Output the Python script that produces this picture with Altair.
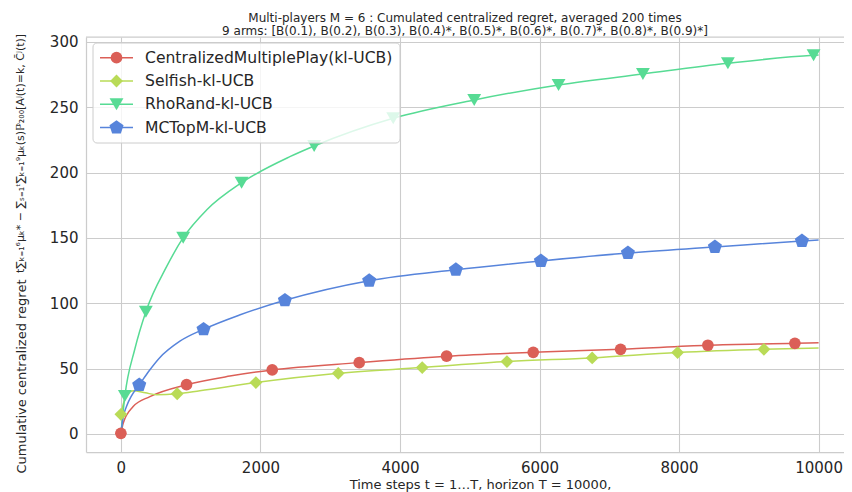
import altair as alt
import pandas as pd

names = ["CentralizedMultiplePlay(kl-UCB)", "Selfish-kl-UCB", "RhoRand-kl-UCB", "MCTopM-kl-UCB"]
colors = ["#db5f57", "#b9db57", "#57db94", "#5784db"]
pentagon = "M0,-1L0.951,-0.309L0.588,0.809L-0.588,0.809L-0.951,-0.309Z"
shapes = ["circle", "diamond", "triangle-down", pentagon]
marker_sizes = [137, 220, 128, 127]

# Curves (time step, cumulative centralized regret)
central_t = [0, 33, 176, 416, 941, 1562, 2169, 3416, 4668, 5910, 7162, 8413, 9660, 10000]
central_v = [0, 8.2, 21, 28.6, 37.7, 44.3, 49, 54.6, 59.5, 62.5, 64.8, 67.9, 69.4, 69.9]
central_mt = [0, 941, 2169, 3416, 4668, 5910, 7162, 8413, 9660]
central_mv = [0.5, 37.7, 49, 54.6, 59.5, 62.5, 64.8, 67.9, 69.4]

selfish_t = [0, 60, 176, 350, 511, 807, 1132, 1935, 3115, 4319, 5533, 6755, 7979, 9216, 10000]
selfish_v = [15, 27, 33, 31.5, 30, 30.8, 33.1, 39.3, 46.4, 50.8, 55.4, 58.2, 62.3, 64.8, 65.8]
selfish_mt = [0, 807, 1935, 3115, 4319, 5533, 6755, 7979, 9216]
selfish_mv = [15, 30.8, 39.3, 46.4, 50.8, 55.4, 58.2, 62.3, 64.8]

rho_t = [0, 57, 200, 358, 655, 893, 1228, 1730, 2422, 2770, 3903, 5064, 6273, 7482, 8700, 9928, 10000]
rho_v = [0, 29, 65, 93.6, 128, 150.2, 171.4, 192.3, 212.2, 220.4, 241.6, 255.6, 267.1, 275.5, 283.7, 289.8, 290]
rho_mt = [57, 358, 893, 1730, 2770, 3903, 5064, 6273, 7482, 8700, 9928]
rho_mv = [29, 93.6, 150.2, 192.3, 220.4, 241.6, 255.6, 267.1, 275.5, 283.7, 289.8]

mctop_t = [0, 30, 80, 150, 263, 400, 550, 846, 1185, 1700, 2351, 3559, 4801, 6020, 7267, 8514, 9761, 10000]
mctop_v = [0, 12, 21, 29, 37.5, 48, 58, 71, 80.1, 91, 102.3, 117.3, 125.7, 132.4, 138.5, 143.1, 147.7, 148.5]
mctop_mt = [263, 1185, 2351, 3559, 4801, 6020, 7267, 8514, 9761]
mctop_mv = [37.5, 80.1, 102.3, 117.3, 125.7, 132.4, 138.5, 143.1, 147.7]

x_ticks = [0, 2000, 4000, 6000, 8000, 10000]
y_ticks = [0, 50, 100, 150, 200, 250, 300]

title_lines = [
    "Multi-players M = 6 : Cumulated centralized regret, averaged 200 times",
    "9 arms: [B(0.1), B(0.2), B(0.3), B(0.4)*, B(0.5)*, B(0.6)*, B(0.7)*, B(0.8)*, B(0.9)*]",
]
x_title = "Time steps t = 1…T, horizon T = 10000,"
y_title = "Cumulative centralized regret"
y_title_math = "t∑ₖ₌₁⁶μₖ* − ∑ₛ₌₁ᵗ∑ₖ₌₁⁹μₖ(s)ℙ₂₀₀[Aʲ(t)=k, C̄ʲ(t)]"

series = [
    (names[0], central_t, central_v, central_mt, central_mv),
    (names[1], selfish_t, selfish_v, selfish_mt, selfish_mv),
    (names[2], rho_t, rho_v, rho_mt, rho_mv),
    (names[3], mctop_t, mctop_v, mctop_mt, mctop_mv),
]
line_rows, mark_rows = [], []
for n, ts, vs, mts, mvs in series:
    line_rows += [{"series": n, "t": t, "v": v} for t, v in zip(ts, vs)]
    mark_rows += [{"series": n, "t": t, "v": v} for t, v in zip(mts, mvs)]
line_df = pd.DataFrame(line_rows)
mark_df = pd.DataFrame(mark_rows)

W, H = 758, 415
FONT = "DejaVu Sans"
TXT = "#262626"
GRID = "#cccccc"

x_enc = alt.X("t:Q", scale=alt.Scale(domain=[-500, 10364], nice=False, zero=False),
              axis=alt.Axis(values=x_ticks, title=x_title, format="d", titleX=394, titleY=32,
                            titleBaseline="middle", titleAnchor="middle"))
y_enc = alt.Y("v:Q", scale=alt.Scale(domain=[-13.8, 303.8], nice=False, zero=False),
              axis=alt.Axis(values=y_ticks, title=y_title, format="d", titleX=-65, titleY=436,
                            titleAlign="left", titleBaseline="middle", titleAngle=270))
color_enc = alt.Color("series:N", scale=alt.Scale(domain=names, range=colors), legend=None)
shape_enc = alt.Shape("series:N", scale=alt.Scale(domain=names, range=shapes), legend=None)
size_enc = alt.Size("series:N", scale=alt.Scale(domain=names, range=marker_sizes), legend=None)

lines = alt.Chart(line_df).mark_line(strokeWidth=1.5, interpolate="monotone", clip=True).encode(
    x=x_enc, y=y_enc, color=color_enc)
points = alt.Chart(mark_df).mark_point(filled=True, opacity=1, strokeWidth=0).encode(
    x="t:Q", y="v:Q", color=color_enc, shape=shape_enc, size=size_enc)

one = pd.DataFrame({"a": [0]})
top_spine = alt.Chart(one).mark_rule(color=GRID, strokeWidth=1.25).encode(
    x=alt.value(0), x2=alt.value(W), y=alt.value(0))

y_math = alt.Chart(pd.DataFrame({"txt": [y_title_math]})).mark_text(
    align="left", baseline="middle", angle=270, fontSize=11, font=FONT, color=TXT).encode(
    x=alt.value(-65), y=alt.value(236), text="txt:N")

leg_df = pd.DataFrame({"series": names, "ly": [20.7 + 23.3 * i for i in range(len(names))]})
leg_box = alt.Chart(one).mark_rect(fill="white", fillOpacity=0.8, stroke=GRID, strokeWidth=1,
                                    cornerRadius=4).encode(
    x=alt.value(7), x2=alt.value(314), y=alt.value(6), y2=alt.value(106))
leg_lines = alt.Chart(leg_df).mark_rule(strokeWidth=1.5).encode(
    x=alt.value(14), x2=alt.value(47), y=alt.Y("ly:Q", scale=None), color=color_enc)
leg_pts = alt.Chart(leg_df).mark_point(filled=True, opacity=1, strokeWidth=0).encode(
    x=alt.value(30.5), y=alt.Y("ly:Q", scale=None), color=color_enc, shape=shape_enc, size=size_enc)
leg_txt = alt.Chart(leg_df).mark_text(align="left", baseline="middle", fontSize=15.6, font=FONT,
                                      color=TXT).encode(
    x=alt.value(59), y=alt.Y("ly:Q", scale=None), text="series:N")

chart = alt.layer(lines, points, top_spine, y_math, leg_box, leg_lines, leg_pts, leg_txt).properties(
    width=W, height=H,
    background="white",
    autosize=alt.AutoSizeParams(type="none"),
    padding={"left": 78, "top": 29, "right": 0, "bottom": 40},
    title=alt.TitleParams(text=title_lines, fontSize=12, font=FONT, fontWeight="normal", color=TXT,
                          anchor="middle", baseline="bottom", offset=4, lineHeight=13, dy=20),
).configure_view(stroke=None).configure_axis(
    grid=True, gridColor=GRID, gridWidth=1.1, domainColor=GRID, domainWidth=1.25, ticks=False,
    labelFont=FONT, labelFontSize=15, labelColor=TXT, labelPadding=8,
    titleFont=FONT, titleFontSize=13, titleColor=TXT, titleFontWeight="normal",
)

chart.save("out.html", embed_options={"renderer": "svg", "actions": False})
